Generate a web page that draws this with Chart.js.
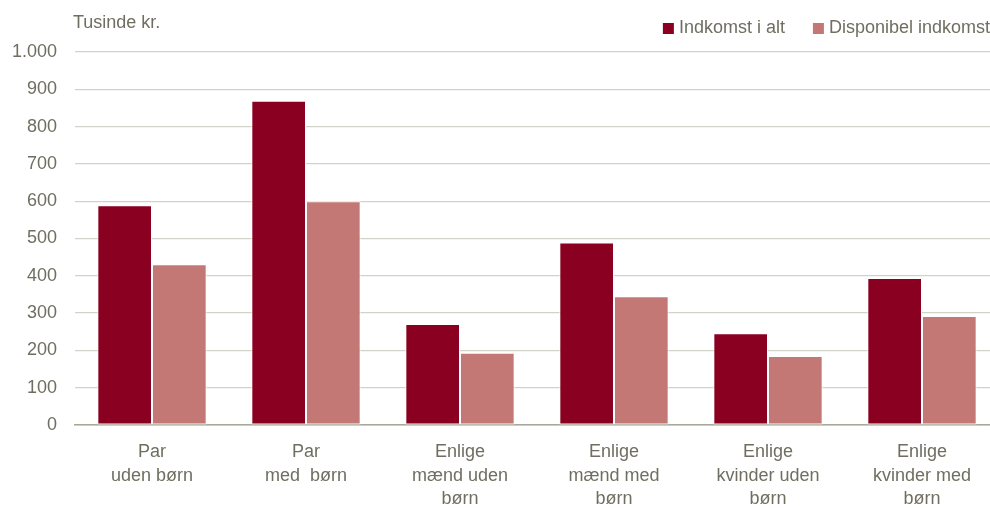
<!DOCTYPE html>
<html>
<head>
<meta charset="utf-8">
<script src="https://cdn.jsdelivr.net/npm/chart.js@4/dist/chart.umd.min.js"></script>
<style>
  html, body { margin: 0; padding: 0; background: #fff; overflow: hidden; }
  #wrap { width: 990px; height: 508px; overflow: hidden; }
</style>
</head>
<body>
<div id="wrap"><canvas id="chart" width="999" height="508"></canvas></div>
<script>
// --- data ---
const categories = [
  ['Par', 'uden børn'],
  ['Par', 'med  børn'],
  ['Enlige', 'mænd uden', 'børn'],
  ['Enlige', 'mænd med', 'børn'],
  ['Enlige', 'kvinder uden', 'børn'],
  ['Enlige', 'kvinder med', 'børn']
];
const indkomstIAlt = [589, 869, 271, 489, 246, 394];
const disponibelIndkomst = [431, 600, 194, 345, 185, 292];
const seriesNames = ['Indkomst i alt', 'Disponibel indkomst'];
const unitLabel = 'Tusinde kr.';

const textColor = '#6f6e60';
const fontFamily = '"Liberation Sans", Arial, sans-serif';
const visibleWidth = 990; // plot runs slightly past the visible edge

// unit label above the y axis + legend in the top right corner
const headerPlugin = {
  id: 'header',
  afterDraw(chart) {
    const ctx = chart.ctx;
    ctx.save();
    ctx.font = '18px ' + fontFamily;
    ctx.fillStyle = textColor;
    ctx.textBaseline = 'middle';
    ctx.textAlign = 'left';
    ctx.fillText(unitLabel, chart.chartArea.left - 2, 23);

    // legend, laid out from the right edge
    let x = visibleWidth;
    const y = 28;
    const sets = chart.data.datasets.slice().reverse();
    sets.forEach(ds => {
      const w = ctx.measureText(ds.label).width;
      const textX = x - w;
      ctx.fillStyle = textColor;
      ctx.fillText(ds.label, textX, y);
      ctx.fillStyle = ds.backgroundColor;
      ctx.fillRect(textX - 16, y - 5, 11, 11);
      x = textX - 16 - 28;
    });
    ctx.restore();
  }
};

const ctx = document.getElementById('chart').getContext('2d');
new Chart(ctx, {
  type: 'bar',
  data: {
    labels: categories,
    datasets: [
      {
        label: seriesNames[0],
        data: indkomstIAlt,
        backgroundColor: '#8a0020',
        borderColor: '#ffffff',
        borderWidth: 1,
        borderSkipped: false
      },
      {
        label: seriesNames[1],
        data: disponibelIndkomst,
        backgroundColor: '#c47875',
        borderColor: '#ffffff',
        borderWidth: 1,
        borderSkipped: false
      }
    ]
  },
  options: {
    responsive: false,
    animation: false,
    categoryPercentage: 0.71,
    barPercentage: 1.0,
    layout: { padding: { top: 52, right: 0, left: 0, bottom: 0 } },
    plugins: {
      legend: { display: false },
      tooltip: { enabled: false }
    },
    scales: {
      x: {
        grid: { display: false, drawTicks: false },
        border: { display: true, color: '#a9a796', width: 1.5 },
        ticks: {
          color: textColor,
          font: { family: fontFamily, size: 18, lineHeight: 1.28 },
          padding: 16,
          maxRotation: 0,
          autoSkip: false
        },
        afterFit(scale) { scale.height = 83; }
      },
      y: {
        min: 0,
        max: 1000,
        grid: { color: '#d3d2c8', lineWidth: 1.2, drawTicks: false },
        border: { display: false },
        ticks: {
          stepSize: 100,
          color: textColor,
          font: { family: fontFamily, size: 18 },
          padding: 18,
          callback: v => v.toLocaleString('da-DK')
        },
        afterFit(scale) { scale.width = 75; }
      }
    }
  },
  plugins: [headerPlugin]
});
</script>
</body>
</html>
